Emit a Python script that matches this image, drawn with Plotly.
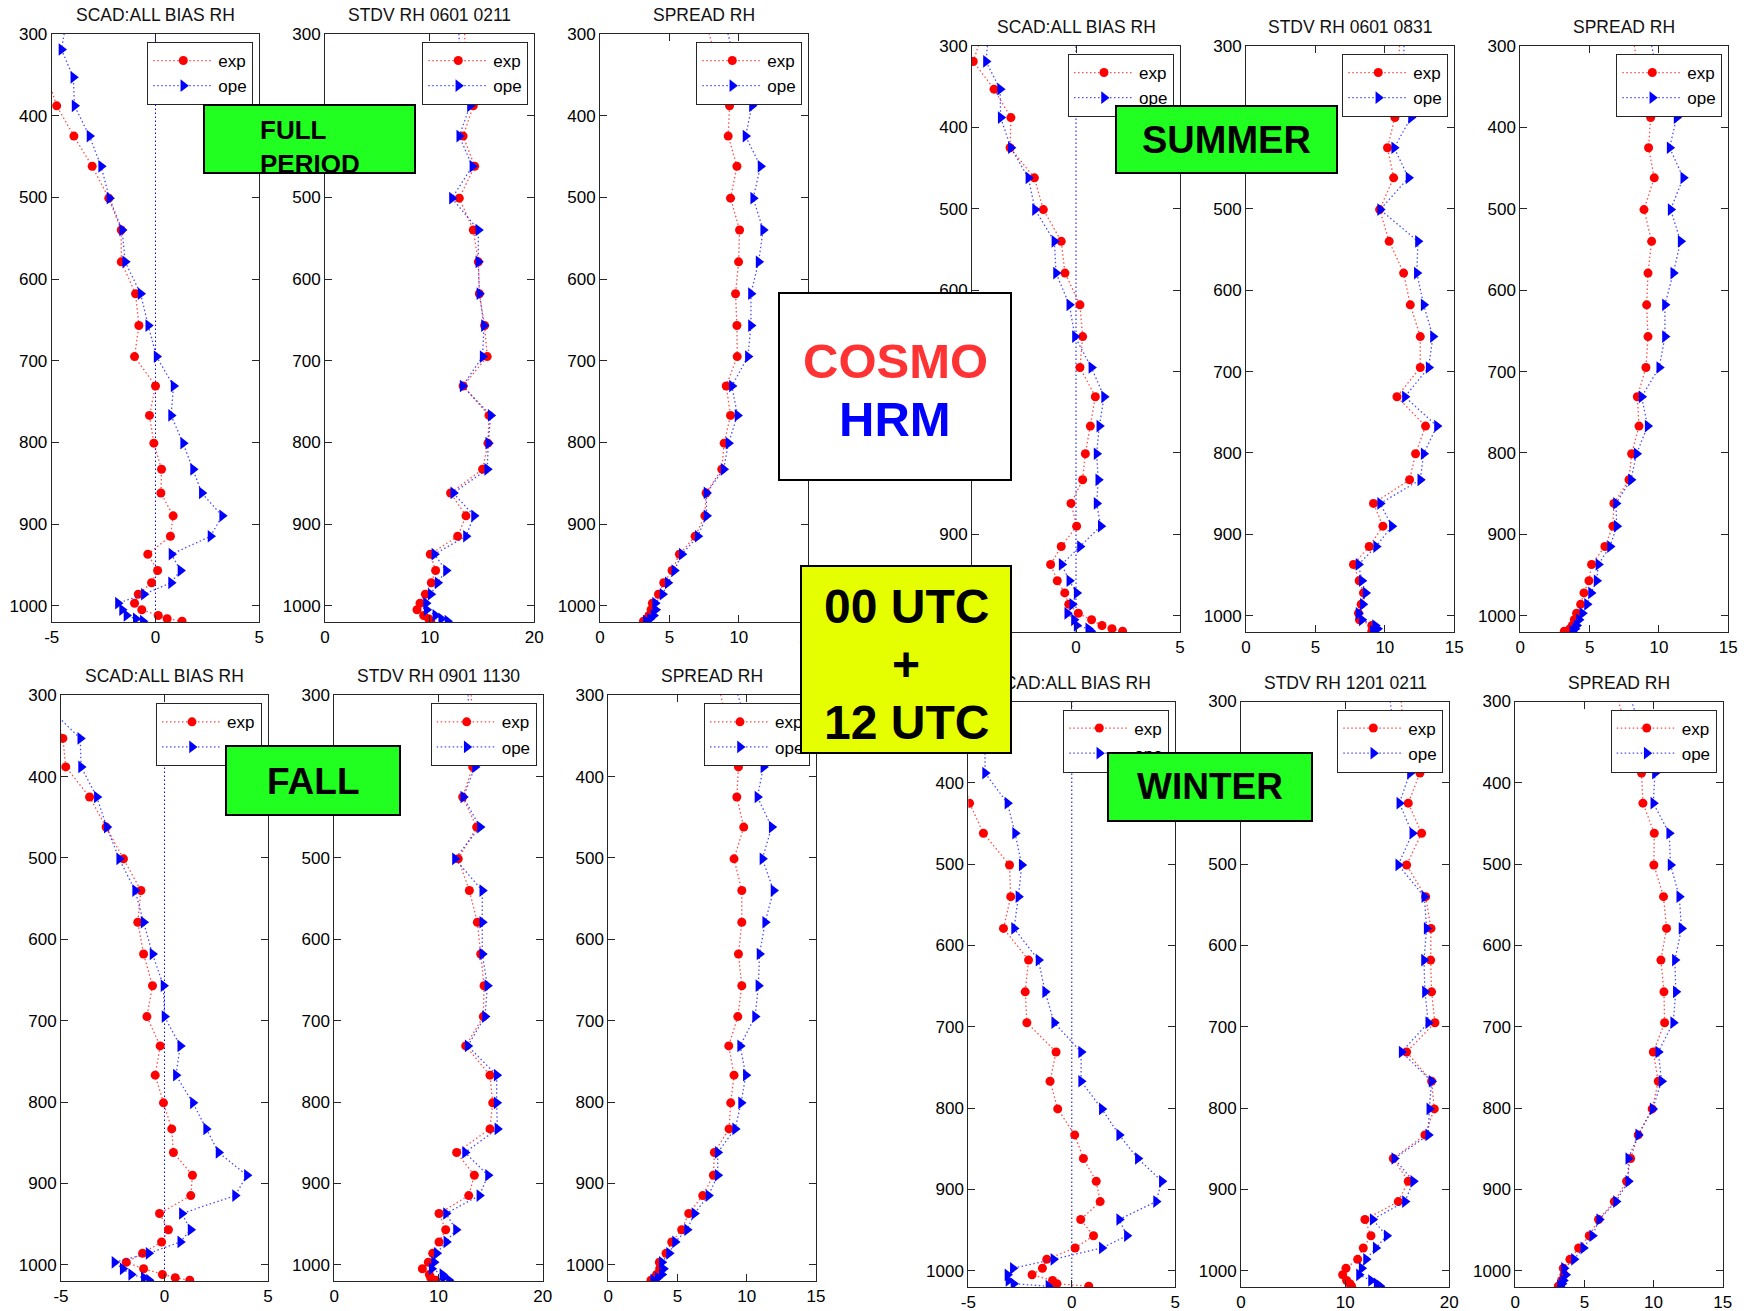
import plotly.graph_objects as go

W, H = 1748, 1311

# ---------------- data ----------------
levels = [285, 319, 353, 388, 425, 462, 501, 540, 579, 618, 657, 695, 731, 767,
          801, 833, 862, 890, 915, 937, 957, 972, 986, 997, 1005, 1012, 1016, 1019]

# FULL PERIOD
full_bias_exp = [-5.7, -5.5, -5.2, -4.76, -3.93, -3.05, -2.25, -1.65, -1.65, -0.96, -0.80, -1.01, 0.0, -0.29,
                 -0.08, 0.29, 0.26, 0.85, 0.72, -0.37, 0.10, -0.19, -0.83, -1.01, -0.66, 0.13, 0.56, 1.28]
full_bias_ope = [-4.3, -4.53, -3.96, -3.90, -3.18, -2.62, -2.22, -1.61, -1.46, -0.72, -0.35, 0.05, 0.87, 0.75,
                 1.33, 1.81, 2.23, 3.21, 2.65, 0.77, 1.20, 0.75, -0.56, -1.81, -1.61, -1.40, -0.95, -0.61]
full_stdv_exp = [13.3, 13.4, 14.0, 14.17, 13.2, 14.3, 12.83, 14.17, 14.65, 14.75, 15.25, 15.5, 13.2, 15.67,
                 15.57, 15.06, 12.0, 13.47, 12.68, 10.06, 10.57, 10.16, 9.59, 9.08, 8.79, 9.43, 9.9, 10.1]
full_stdv_ope = [12.7, 12.9, 13.4, 13.85, 12.83, 14.08, 12.13, 14.65, 14.65, 14.75, 15.19, 15.06, 13.15, 15.83,
                 15.6, 15.5, 12.26, 14.24, 13.47, 10.45, 11.56, 10.76, 10.1, 9.65, 9.71, 10.54, 11.1, 11.7]
full_spread_exp = [7.6, 8.2, 8.8, 9.33, 9.23, 9.86, 9.4, 10.05, 9.98, 9.76, 9.86, 9.88, 9.09, 9.4,
                   8.94, 8.77, 7.64, 7.55, 6.85, 5.72, 5.19, 4.59, 4.21, 3.77, 3.68, 3.53, 3.37, 3.13]
full_spread_ope = [9.0, 9.5, 10.2, 10.94, 10.48, 11.56, 11.03, 11.75, 11.42, 10.87, 10.87, 10.65, 9.5, 9.9,
                   9.25, 8.9, 7.67, 7.67, 7.04, 5.89, 5.35, 4.88, 4.5, 3.97, 4.0, 3.85, 3.6, 3.3]

# SUMMER
summer_bias_exp = [-4.5, -4.94, -3.94, -3.13, -3.17, -2.0, -1.57, -0.71, -0.53, 0.19, 0.32, 0.19, 0.93, 0.69,
                   0.45, 0.32, -0.24, 0.03, -0.71, -1.22, -0.9, -0.54, -0.35, 0.11, 0.75, 1.25, 1.73, 2.24]
summer_bias_ope = [-4.2, -4.33, -3.65, -3.62, -3.13, -2.29, -1.97, -1.04, -0.96, -0.32, -0.05, 0.74, 1.35, 1.12,
                   0.99, 1.07, 0.99, 1.19, 0.19, -0.69, -0.32, 0.03, -0.18, -0.42, -0.1, 0.03, 0.59, 0.71]
summer_stdv_exp = [11.1, 11.0, 10.9, 10.72, 10.19, 10.63, 9.62, 10.31, 11.35, 11.83, 12.55, 12.55, 10.87, 12.93,
                   12.21, 11.78, 9.18, 9.86, 8.87, 7.74, 8.15, 8.46, 8.29, 8.1, 8.17, 9.06, 9.25, 9.06]
summer_stdv_ope = [11.4, 11.35, 11.5, 11.88, 10.67, 11.7, 9.66, 12.38, 12.3, 12.79, 13.46, 13.15, 11.44, 13.75,
                   12.79, 12.55, 9.66, 10.5, 9.37, 8.1, 8.34, 8.61, 8.41, 8.1, 8.34, 9.3, 9.47, 9.13]
summer_spread_exp = [8.1, 8.4, 8.9, 9.4, 9.25, 9.66, 8.92, 9.47, 9.21, 9.11, 9.21, 9.06, 8.44, 8.56,
                     8.03, 7.84, 6.75, 6.68, 6.1, 5.14, 4.95, 4.59, 4.35, 4.06, 3.89, 3.75, 3.58, 3.17]
summer_spread_ope = [9.3, 9.7, 10.5, 11.27, 10.77, 11.75, 10.84, 11.56, 11.03, 10.43, 10.43, 10.02, 8.75, 9.18,
                     8.39, 7.98, 6.9, 6.95, 6.47, 5.63, 5.5, 5.1, 4.81, 4.47, 4.23, 4.06, 3.94, 3.75]

# FALL
fall_bias_exp = [-5.6, -5.3, -4.91, -4.77, -3.62, -2.82, -1.98, -1.14, -1.29, -1.01, -0.58, -0.85, -0.21, -0.45,
                 -0.05, 0.35, 0.43, 1.35, 1.27, -0.24, 0.19, -0.14, -1.06, -1.85, -1.01, -0.1, 0.52, 1.22]
fall_bias_ope = [-6.0, -5.44, -4.07, -4.03, -3.27, -2.79, -2.19, -1.42, -1.01, -0.58, -0.05, 0.0, 0.76, 0.55,
                 1.37, 2.01, 2.61, 3.98, 3.41, 0.84, 1.26, 0.76, -0.77, -2.42, -2.02, -1.61, -1.0, -0.75]
fall_stdv_exp = [13.1, 13.2, 13.3, 13.28, 12.32, 13.66, 11.9, 12.96, 13.73, 14.05, 14.37, 14.3, 12.61, 14.94,
                 15.2, 14.94, 11.74, 13.44, 12.9, 10.05, 10.69, 10.05, 9.44, 9.02, 8.45, 9.12, 9.25, 9.73]
fall_stdv_ope = [12.8, 12.9, 13.2, 13.5, 12.38, 13.98, 11.58, 14.2, 14.2, 14.2, 14.69, 14.46, 12.8, 15.58,
                 15.58, 15.65, 12.54, 14.75, 13.92, 10.72, 11.68, 10.75, 9.82, 9.57, 9.34, 10.37, 10.46, 11.0]
fall_spread_exp = [7.9, 8.4, 8.9, 9.4, 9.28, 9.78, 9.08, 9.64, 9.64, 9.4, 9.64, 9.35, 8.7, 9.08,
                   8.84, 8.72, 7.66, 7.59, 6.82, 5.81, 5.3, 4.58, 4.17, 3.69, 3.71, 3.49, 3.33, 3.08]
fall_spread_ope = [9.1, 9.7, 10.5, 11.2, 10.77, 11.8, 11.13, 11.93, 11.33, 10.92, 10.84, 10.6, 9.52, 9.93,
                   9.59, 9.16, 7.9, 7.9, 7.23, 6.22, 5.69, 4.82, 4.39, 3.86, 3.98, 3.86, 3.57, 3.25]

# WINTER
winter_bias_exp = [-5.8, -5.6, -5.5, -5.3, -4.94, -4.27, -3.01, -2.95, -3.3, -2.09, -2.25, -2.17, -0.76, -1.05,
                   -0.68, 0.14, 0.56, 1.18, 1.37, 0.43, 1.05, 0.16, -1.21, -1.42, -1.92, -0.93, -0.72, 0.82]
winter_bias_ope = [-4.2, -4.2, -4.2, -4.19, -3.11, -2.74, -2.42, -2.58, -2.79, -1.61, -1.29, -0.85, 0.45, 0.45,
                   1.45, 2.29, 3.19, 4.35, 4.07, 2.29, 2.66, 1.45, -0.89, -2.85, -3.11, -3.06, -2.82, -1.13]
winter_stdv_exp = [15.3, 15.5, 16.3, 17.18, 16.06, 17.34, 15.9, 17.73, 18.24, 18.21, 18.3, 18.62, 15.9, 18.3,
                   18.56, 17.66, 14.62, 16.06, 15.1, 11.9, 12.48, 11.74, 11.2, 10.08, 9.76, 10.14, 10.46, 10.62]
winter_stdv_ope = [14.2, 14.5, 15.3, 16.22, 15.2, 16.45, 15.1, 17.6, 17.82, 17.57, 17.66, 17.98, 15.42, 18.3,
                   18.08, 17.98, 14.72, 16.54, 15.74, 12.64, 13.98, 12.93, 12.0, 11.58, 11.33, 12.48, 13.02, 13.34]
winter_spread_exp = [7.2, 7.8, 8.5, 9.13, 9.23, 10.05, 10.02, 10.72, 10.94, 10.53, 10.75, 10.8, 9.98, 10.34,
                     9.9, 8.89, 8.34, 8.05, 7.16, 6.02, 5.35, 4.58, 3.95, 3.47, 3.52, 3.35, 3.3, 3.11]
winter_spread_ope = [8.1, 8.8, 9.5, 10.1, 9.98, 11.13, 11.23, 11.86, 12.02, 11.54, 11.61, 11.42, 10.34, 10.58,
                     9.93, 8.89, 8.17, 8.17, 7.28, 6.07, 5.57, 4.92, 4.24, 3.52, 3.64, 3.47, 3.37, 3.23]

series_names = ["exp", "ope"]
p_ticks = [300, 400, 500, 600, 700, 800, 900, 1000]
bias_ticks = [-5, 0, 5]
bias_ticktext = ["-5", "0", "5"]
stdv20_ticks = [0, 10, 20]
stdv15_ticks = [0, 5, 10, 15]
spread_ticks = [0, 5, 10, 15]

bias_title = "SCAD:ALL BIAS RH"
spread_title = "SPREAD RH"
stdv_titles = ["STDV RH 0601 0211", "STDV RH 0601 0831", "STDV RH 0901 1130", "STDV RH 1201 0211"]

# ---------------- layout geometry (pixels) ----------------
groups = [
    dict(top=34, bottom=622, xs=[(51.7, 259.3), (325, 534.3), (600, 808.3)], stdv_max=20,
         data=[(full_bias_exp, full_bias_ope), (full_stdv_exp, full_stdv_ope), (full_spread_exp, full_spread_ope)]),
    dict(top=46, bottom=632, xs=[(972, 1180), (1246, 1454.3), (1520.3, 1728.3)], stdv_max=15,
         data=[(summer_bias_exp, summer_bias_ope), (summer_stdv_exp, summer_stdv_ope), (summer_spread_exp, summer_spread_ope)]),
    dict(top=695.3, bottom=1281, xs=[(61, 268), (334.3, 542.7), (608.3, 816)], stdv_max=20,
         data=[(fall_bias_exp, fall_bias_ope), (fall_stdv_exp, fall_stdv_ope), (fall_spread_exp, fall_spread_ope)]),
    dict(top=701.5, bottom=1287, xs=[(968.3, 1175.3), (1241, 1449.3), (1515.3, 1722.7)], stdv_max=20,
         data=[(winter_bias_exp, winter_bias_ope), (winter_stdv_exp, winter_stdv_ope), (winter_spread_exp, winter_spread_ope)]),
]

FONT = "Liberation Sans, Arial, sans-serif"
AXC = "#262626"
DOTS = "1.5px,2.5px"

fig = go.Figure()
layout = dict(width=W, height=H, autosize=False,
              margin=dict(l=0, r=0, t=0, b=0, pad=0, autoexpand=False),
              paper_bgcolor="white", plot_bgcolor="white", showlegend=True,
              font=dict(family=FONT, size=17, color="black"))
annotations = []
shapes = []

k = 0
for gi, g in enumerate(groups):
    for pi in range(3):
        k += 1
        sfx = "" if k == 1 else str(k)
        x0, x1 = g["xs"][pi]
        top, bottom = g["top"], g["bottom"]
        legname = "legend" if k == 1 else f"legend{k}"
        exp_vals, ope_vals = g["data"][pi]

        fig.add_trace(go.Scatter(
            x=exp_vals, y=levels, mode="lines+markers", name=series_names[0],
            xaxis="x" + sfx, yaxis="y" + sfx, legend=legname,
            line=dict(color="rgba(255,30,30,0.8)", width=1.3, dash=DOTS),
            marker=dict(symbol="circle", size=9, color="#FF0000", line=dict(width=0))))
        fig.add_trace(go.Scatter(
            x=ope_vals, y=levels, mode="lines+markers", name=series_names[1],
            xaxis="x" + sfx, yaxis="y" + sfx, legend=legname,
            line=dict(color="rgba(30,30,255,0.8)", width=1.3, dash=DOTS),
            marker=dict(symbol="triangle-right", size=11, color="#0000FF", line=dict(width=0))))

        if pi == 0:
            xr, tv, tt = [-5, 5], bias_ticks, bias_ticktext
            title = bias_title
        elif pi == 1:
            if g["stdv_max"] == 20:
                xr, tv = [0, 20], stdv20_ticks
            else:
                xr, tv = [0, 15], stdv15_ticks
            tt = [str(v) for v in tv]
            title = stdv_titles[gi]
        else:
            xr, tv = [0, 15], spread_ticks
            tt = [str(v) for v in tv]
            title = spread_title

        common = dict(showgrid=False, zeroline=False, showline=True, linecolor=AXC, linewidth=1,
                      mirror="ticks", ticks="inside", ticklen=7, tickcolor=AXC, tickwidth=1,
                      automargin=False,
                      tickfont=dict(family=FONT, size=17, color="black"))
        layout["xaxis" + sfx] = dict(domain=[x0 / W, x1 / W], range=xr, tickvals=tv, ticktext=tt,
                                     anchor="y" + sfx, **common)
        layout["yaxis" + sfx] = dict(domain=[1 - bottom / H, 1 - top / H], range=[1020, 300],
                                     tickvals=p_ticks, anchor="x" + sfx, **common)
        layout[legname] = dict(x=(x1 - 6) / W, y=1 - (top + 8) / H, xanchor="right", yanchor="top",
                               bgcolor="white", bordercolor=AXC, borderwidth=1,
                               font=dict(family=FONT, size=17, color="black"),
                               itemwidth=60, tracegroupgap=0)
        if pi == 0:
            shapes.append(dict(type="line", xref="x" + sfx, yref="y" + sfx + " domain",
                               x0=0, x1=0, y0=0, y1=1, layer="below",
                               line=dict(color="#0000FF", width=1, dash=DOTS)))
        annotations.append(dict(x=(x0 + x1) / 2 / W, y=1 - (top - 19) / H, xref="paper", yref="paper",
                                xanchor="center", yanchor="middle", showarrow=False, text=title,
                                font=dict(family=FONT, size=17.5, color="#111111")))


def box(x0, y0, x1, y1, color):
    return dict(x=(x0 + x1) / 2 / W, y=1 - (y0 + y1) / 2 / H, xref="paper", yref="paper",
                xanchor="center", yanchor="middle", text=" ", showarrow=False,
                width=x1 - x0 - 4, height=y1 - y0 - 4, bgcolor=color,
                bordercolor="black", borderwidth=2, borderpad=0)


def label(text, xc, yc, size, color="black", xanchor="center", align="center"):
    return dict(x=xc / W, y=1 - yc / H, xref="paper", yref="paper", xanchor=xanchor,
                yanchor="middle", text=text, showarrow=False, align=align,
                font=dict(family=FONT, size=size, color=color))


GREEN = "#20FF20"
YELLOW = "#E5FF00"

annotations += [
    box(203, 104, 416, 174, GREEN),
    label("<b>FULL<br>PERIOD</b>", 258, 147, 26, xanchor="left", align="left"),
    box(1115, 105, 1338, 174, GREEN),
    label("<b>SUMMER</b>", 1226.5, 140, 38),
    box(225, 745, 401, 816, GREEN),
    label("<b>FALL</b>", 313, 781, 37),
    box(1107, 752, 1313, 822, GREEN),
    label("<b>WINTER</b>", 1210, 787, 37),
    box(778, 292, 1012, 481, "white"),
    label("<b>COSMO</b>", 895, 361, 49, color="#FF3333"),
    label("<b>HRM</b>", 895, 419, 49, color="#0000FF"),
    box(800, 565, 1012, 754, YELLOW),
    label("<b>00 UTC</b>", 906, 607, 48),
    label("<b>+</b>", 906, 664, 48),
    label("<b>12 UTC</b>", 906, 722, 48),
]

layout["annotations"] = annotations
layout["shapes"] = shapes
fig.update_layout(**layout)
fig.write_html("out.html")
